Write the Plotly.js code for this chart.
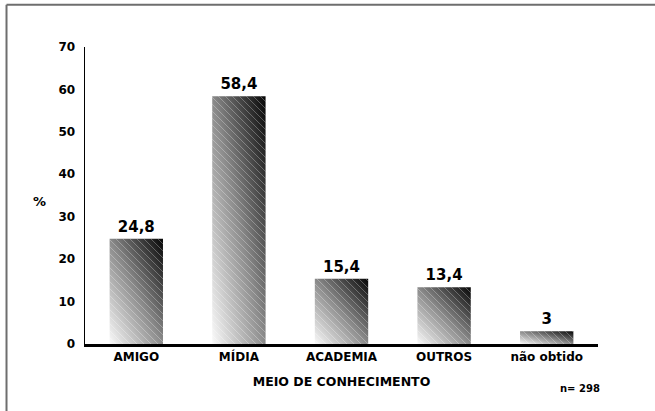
<!DOCTYPE html>
<html>
<head>
<meta charset="utf-8">
<script src="https://cdn.plot.ly/plotly-3.0.1.min.js"></script>
<style>html,body{margin:0;padding:0;background:#fff;}#chart{width:655px;height:411px;}</style>
</head>
<body>
<div id="chart"></div>
<script>
const categories = ["AMIGO", "MÍDIA", "ACADEMIA", "OUTROS", "não obtido"];
const percentValues = [24.8, 58.4, 15.4, 13.4, 3];
const yTickValues = [0, 10, 20, 30, 40, 50, 60, 70];
const valueLabels = percentValues.map(v => String(v).replace('.', ','));

const FONT = "DejaVu Sans, Liberation Sans, Arial, sans-serif";

const trace = {
  type: 'bar',
  x: categories,
  y: percentValues,
  text: valueLabels,
  textposition: 'outside',
  textfont: {family: FONT, size: 15, color: '#000', weight: 'bold'},
  cliponaxis: false,
  marker: {color: '#777', line: {width: 0}},
  hoverinfo: 'none'
};

const layout = {
  width: 655, height: 411,
  margin: {l: 85, r: 57, t: 47, b: 67},
  paper_bgcolor: '#fff', plot_bgcolor: '#fff',
  showlegend: false,
  bargap: 0.48,
  font: {family: FONT, color: '#000'},
  xaxis: {
    showline: true, linecolor: '#000', linewidth: 3,
    showgrid: false, zeroline: false, ticks: '',
    tickfont: {family: FONT, size: 12, color: '#000', weight: 'bold'},
    title: {text: 'MEIO DE CONHECIMENTO', font: {family: FONT, size: 12.5, color: '#000', weight: 'bold'}, standoff: 14}
  },
  yaxis: {
    range: [0, 70], tickvals: yTickValues,
    showline: true, linecolor: '#000', linewidth: 1.5,
    showgrid: false, zeroline: false, ticks: '',
    ticklabelstandoff: 6,
    tickfont: {family: FONT, size: 12, color: '#000', weight: 'bold'}
  },
  annotations: [
    {text: '%', xref: 'paper', yref: 'paper', x: -0.088, y: 0.48, showarrow: false,
     xanchor: 'center', yanchor: 'middle', font: {family: FONT, size: 13, color: '#000', weight: 'bold'}},
    {text: 'n= 298', xref: 'paper', yref: 'paper', x: 0.965, y: -0.15, showarrow: false,
     xanchor: 'center', yanchor: 'middle', font: {family: FONT, size: 10, color: '#000', weight: 'bold'}}
  ],
  shapes: [
    {type: 'line', xref: 'paper', yref: 'paper', x0: -0.153, x1: 1.2, y0: 1.142, y1: 1.142, line: {color: '#6e6e6e', width: 2}},
    {type: 'line', xref: 'paper', yref: 'paper', x0: -0.153, x1: -0.153, y0: 1.142, y1: -0.3, line: {color: '#6e6e6e', width: 2}}
  ]
};

const gd = document.getElementById('chart');
Plotly.newPlot(gd, [trace], layout, {staticPlot: true, displayModeBar: false}).then(() => {
  const svg = gd.querySelector('svg.main-svg');
  const NS = 'http://www.w3.org/2000/svg';
  let defs = svg.querySelector('defs');
  if (!defs) { defs = document.createElementNS(NS, 'defs'); svg.insertBefore(defs, svg.firstChild); }
  const grad = document.createElementNS(NS, 'linearGradient');
  grad.setAttribute('id', 'barGrad');
  grad.setAttribute('x1', '0'); grad.setAttribute('y1', '1');
  grad.setAttribute('x2', '1'); grad.setAttribute('y2', '0');
  [['0', '#fafafa'], ['0.5', '#8a8a8a'], ['1', '#050505']].forEach(([o, c]) => {
    const s = document.createElementNS(NS, 'stop');
    s.setAttribute('offset', o); s.setAttribute('stop-color', c);
    grad.appendChild(s);
  });
  defs.appendChild(grad);
  const pat = document.createElementNS(NS, 'pattern');
  pat.setAttribute('id', 'barHatch');
  pat.setAttribute('patternUnits', 'userSpaceOnUse');
  pat.setAttribute('width', '7'); pat.setAttribute('height', '7');
  const hp = document.createElementNS(NS, 'path');
  hp.setAttribute('d', 'M0,0 L7,7 M-1,6 L1,8 M6,-1 L8,1');
  hp.setAttribute('stroke', '#ffffff'); hp.setAttribute('stroke-opacity', '0.28');
  hp.setAttribute('stroke-width', '1');
  pat.appendChild(hp);
  defs.appendChild(pat);
  gd.querySelectorAll('.barlayer .point path').forEach(p => {
    p.style.fill = 'url(#barGrad)';
    p.style.fillOpacity = '1';
    const c = p.cloneNode(true);
    c.style.fill = 'url(#barHatch)';
    p.parentNode.insertBefore(c, p.nextSibling);
  });
});
</script>
</body>
</html>
